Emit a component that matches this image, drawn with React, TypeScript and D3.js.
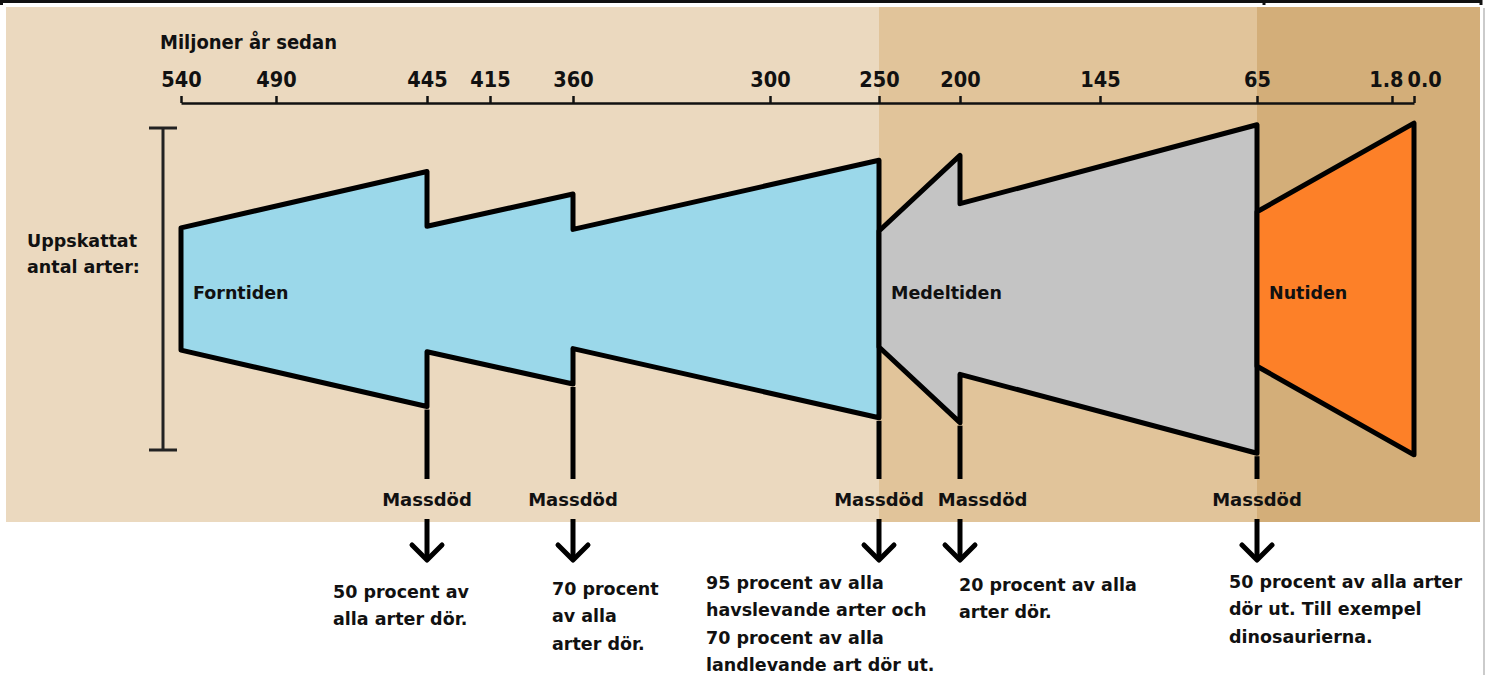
import React, { useEffect, useRef } from 'react';
import * as d3 from 'd3';

// time axis (million years ago)
const tickYears = [540, 490, 445, 415, 360, 300, 250, 200, 145, 65, 1.8, 0];
const tickLabels = ['540', '490', '445', '415', '360', '300', '250', '200', '145', '65', '1.8', '0.0'];

// estimated number of species (relative index), per era
const eraNames = ['Forntiden', 'Medeltiden', 'Nutiden'];
const forntidenYears = [540, 445, 445, 360, 360, 250];
const forntidenSpecies = [38, 73, 39, 59, 37, 80];
const medeltidenYears = [250, 200, 200, 65];
const medeltidenSpecies = [36, 83, 53, 102];
const nutidenYears = [65, 0];
const nutidenSpecies = [48, 103];

// mass extinctions
const massYears = [445, 360, 250, 200, 65];
const massNotes = [
  ['50 procent av', 'alla arter dör.'],
  ['70 procent', 'av alla', 'arter dör.'],
  ['95 procent av alla', 'havslevande arter och', '70 procent av alla', 'landlevande art dör ut.'],
  ['20 procent av alla', 'arter dör.'],
  ['50 procent av alla arter', 'dör ut. Till exempel', 'dinosaurierna.'],
];

function ExtinctionChart() {
  const ref = useRef<SVGSVGElement>(null);

  useEffect(() => {
    const svg = d3.select(ref.current);
    svg.selectAll('*').remove();

    const bold = "'DejaVu Sans', Verdana, sans-serif";
    const narrow = "'DejaVu Sans Condensed', 'DejaVu Sans', sans-serif";

    const x = d3.scaleLinear()
      .domain(tickYears)
      .range([181, 276, 427, 490, 573, 770, 879, 960, 1100, 1257, 1392, 1414]);
    const y = d3.scaleLinear().domain([0, 100]).range([450, 128]);

    // background bands split at 250 and 65
    const bgLeft = 6, bgRight = 1480, bgTop = 7, bgBottom = 522;
    const edges = [bgLeft, x(250), x(65), bgRight];
    const bandColors = ['#ebd9bf', '#e1c49a', '#d3ae79'];
    bandColors.forEach((c, i) => {
      svg.append('rect')
        .attr('x', edges[i]).attr('y', bgTop)
        .attr('width', edges[i + 1] - edges[i]).attr('height', bgBottom - bgTop)
        .attr('fill', c);
    });

    // frame remnants
    svg.append('line').attr('x1', 0).attr('x2', 1481).attr('y1', 1.5).attr('y2', 1.5)
      .attr('stroke', '#111').attr('stroke-width', 3);
    [1.5, 1264, 1481].forEach(fx => {
      svg.append('line').attr('x1', fx).attr('x2', fx).attr('y1', 0).attr('y2', 5)
        .attr('stroke', '#111').attr('stroke-width', 3);
    });
    svg.append('line').attr('x1', 1484).attr('x2', 1484).attr('y1', 8).attr('y2', 675)
      .attr('stroke', '#cbcbcb').attr('stroke-width', 2);

    // title + axis
    svg.append('text').attr('x', 160).attr('y', 49)
      .attr('font-family', narrow).attr('font-stretch', 'condensed')
      .attr('font-weight', 700).attr('font-size', 20).attr('fill', '#111')
      .text('Miljoner år sedan');

    const axis = svg.append('g')
      .attr('transform', 'translate(0,103)')
      .call(d3.axisTop(x)
        .tickValues(tickYears)
        .tickFormat((d, i) => tickLabels[i])
        .tickSize(7)
        .tickSizeOuter(0)
        .tickPadding(9));
    axis.select('.domain').attr('stroke', '#111').attr('stroke-width', 2.5);
    axis.selectAll('.tick line').attr('stroke', '#111').attr('stroke-width', 2.5);
    axis.selectAll('.tick text')
      .attr('font-family', narrow).attr('font-stretch', 'condensed')
      .attr('font-weight', 700).attr('font-size', 21.5).attr('fill', '#111');
    axis.selectAll<SVGTextElement, number>('.tick text')
      .filter(d => d === 1.8).attr('text-anchor', 'end').attr('x', 11);
    axis.selectAll<SVGTextElement, number>('.tick text')
      .filter(d => d === 0).attr('text-anchor', 'start').attr('x', -7);

    // species range bar
    const bar = svg.append('g').attr('stroke', '#222').attr('stroke-width', 3);
    bar.append('line').attr('x1', 163).attr('x2', 163).attr('y1', y(0)).attr('y2', y(100));
    [0, 100].forEach(v => {
      bar.append('line').attr('x1', 149).attr('x2', 177).attr('y1', y(v)).attr('y2', y(v));
    });
    svg.append('text').attr('font-family', bold).attr('font-weight', 700)
      .attr('font-size', 17.5).attr('fill', '#111')
      .selectAll('tspan').data(['Uppskattat', 'antal arter:']).enter().append('tspan')
      .attr('x', 27).attr('y', (d, i) => 247 + i * 26).text(d => d);

    // era shapes
    const eras = [
      { name: eraNames[0], years: forntidenYears, species: forntidenSpecies, color: '#9bd8ea' },
      { name: eraNames[1], years: medeltidenYears, species: medeltidenSpecies, color: '#c4c4c4' },
      { name: eraNames[2], years: nutidenYears, species: nutidenSpecies, color: '#fd8028' },
    ];
    const area = d3.area<[number, number]>()
      .x(d => x(d[0]))
      .y0(d => y(50 - d[1] / 2))
      .y1(d => y(50 + d[1] / 2));

    eras.forEach(era => {
      const pts = era.years.map((t, i) => [t, era.species[i]] as [number, number]);
      svg.append('path')
        .attr('d', area(pts))
        .attr('fill', era.color)
        .attr('stroke', '#000')
        .attr('stroke-width', 5)
        .attr('stroke-linejoin', 'round');
      svg.append('text')
        .attr('x', x(era.years[0]) + 12).attr('y', y(50) + 10)
        .attr('font-family', bold).attr('font-weight', 700)
        .attr('font-size', 17.5).attr('fill', '#111')
        .text(era.name);
    });

    // mass extinction markers
    const noteLayout = [[-94, 598], [-21, 595], [-173, 589], [-1, 591], [-28, 588]];
    let prevRight = -Infinity;
    massYears.forEach((t, i) => {
      const cx = x(t);
      let widest = 0;
      eras.forEach(era => era.years.forEach((yr, j) => {
        if (yr === t) widest = Math.max(widest, era.species[j]);
      }));
      const bottom = y(50 - widest / 2);

      svg.append('line').attr('x1', cx).attr('x2', cx)
        .attr('y1', bottom + 3).attr('y2', 479)
        .attr('stroke', '#000').attr('stroke-width', 5);

      const label = svg.append('text')
        .attr('y', 506)
        .attr('font-family', bold).attr('font-weight', 700)
        .attr('font-size', 18).attr('fill', '#111')
        .text('Massdöd');
      const w = (label.node() as SVGTextElement).getComputedTextLength();
      let left = cx - w / 2;
      if (left < prevRight + 14) left = prevRight + 14;
      label.attr('x', left);
      prevRight = left + w;

      svg.append('line').attr('x1', cx).attr('x2', cx)
        .attr('y1', 519).attr('y2', 560)
        .attr('stroke', '#000').attr('stroke-width', 5);
      svg.append('path')
        .attr('d', d3.line()([[cx - 15, 545], [cx, 560], [cx + 15, 545]]))
        .attr('fill', 'none').attr('stroke', '#000').attr('stroke-width', 5)
        .attr('stroke-linejoin', 'round').attr('stroke-linecap', 'round');

      const [dx, y0] = noteLayout[i];
      svg.append('text')
        .attr('font-family', bold).attr('font-weight', 700)
        .attr('font-size', 17.5).attr('fill', '#111')
        .selectAll('tspan').data(massNotes[i]).enter().append('tspan')
        .attr('x', cx + dx).attr('y', (d, k) => y0 + k * 27.3).text(d => d);
    });
  }, []);

  return (
    <svg
      ref={ref}
      width={1489}
      height={675}
      style={{ position: 'absolute', left: 0, top: 0, background: '#fff', display: 'block' }}
    />
  );
}

export default function App() {
  return <ExtinctionChart />;
}
